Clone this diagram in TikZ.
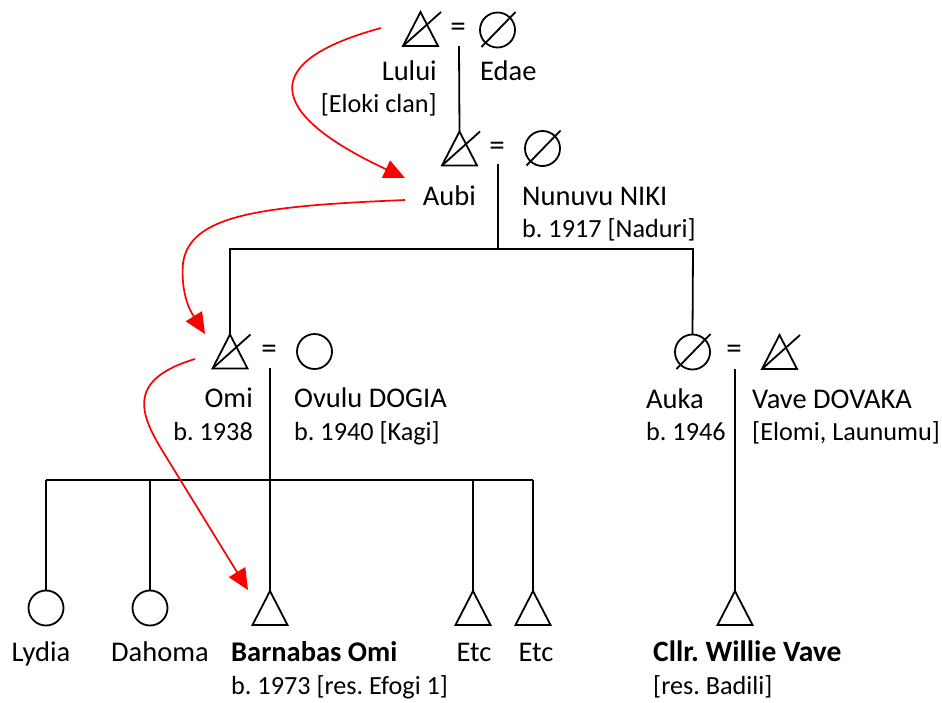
\documentclass[tikz,border=0pt]{standalone}
\usepackage{fontspec}
\setmainfont{Carlito}
\frenchspacing
\usetikzlibrary{arrows.meta}
\tikzset{
  kin/.style={line width=1.8pt, black},
  sym/.style={line width=1.8pt, black},
  redarr/.style={red, line width=1.7pt, -{Triangle[length=21pt,width=19pt]}},
  lbl/.style={inner sep=0pt, font=\fontsize{28.5}{33}\selectfont},
  sub/.style={inner sep=0pt, font=\fontsize{26.2}{31}\selectfont},
  eqsign/.style={inner sep=0pt, font=\fontsize{31}{33}\selectfont},
  male/.pic={\draw[sym] (-17.5,17) -- (17.5,17) -- (0,-17) coordinate (-top) -- cycle;},
  deadmale/.pic={\draw[sym] (-17.5,17) -- (17.5,17) -- (0,-17) coordinate (-top) -- cycle;
                 \draw[sym] (-17.5,17) -- (20.5,-17);},
  female/.pic={\draw[sym] (0,0) circle[radius=17.5pt]; \coordinate (-top) at (0,-17.5);},
  deadfemale/.pic={\draw[sym] (0,0) circle[radius=17.5pt]; \draw[sym] (-16,17) -- (18,-18);
                   \coordinate (-top) at (0,-17.5);},
}
\begin{document}
\begin{tikzpicture}[x=1pt,y=-1pt]
\useasboundingbox (0,0) rectangle (942,702);
% generation 1
\pic (lului) at (420.5,29) {deadmale};
\node[eqsign] (eq1) at (458,30) {=};
\pic (edae) at (497.5,30) {deadfemale};
\node[lbl, anchor=base east] (lululbl) at (437,80) {Lului};
\node[sub, anchor=base east] (lulucl) at (437,112) {[Eloki clan]};
\node[lbl, anchor=base west] (edaelbl) at (480,80) {Edae};
\coordinate (m1) at (459,46);
% generation 2
\pic (aubi) at (459.5,148.5) {deadmale};
\node[eqsign] (eq2) at (497,149) {=};
\pic (nunu) at (542.5,148.5) {deadfemale};
\node[lbl, anchor=base east] (aubilbl) at (476,205) {Aubi};
\node[lbl, anchor=base west] (nunulbl) at (522,205) {Nunuvu NIKI};
\node[sub, anchor=base west] (nunub) at (522,237) {b. 1917 [Naduri]};
\draw[kin] (m1) -- (aubi-top);
\coordinate (m2) at (498,164);
\coordinate (b2) at (498,249);
\coordinate (b2L) at (230,249);
\coordinate (b2R) at (693,249);
\draw[kin] (m2) -- (b2);
% generation 3
\pic (omi) at (230,351.5) {deadmale};
\node[eqsign] (eq3) at (269,352) {=};
\pic (ovulu) at (314.5,351.5) {female};
\node[lbl, anchor=base east] (omilbl) at (253,407) {Omi};
\node[sub, anchor=base east] (omib) at (253,440) {b. 1938};
\node[lbl, anchor=base west] (ovululbl) at (294,407) {Ovulu DOGIA};
\node[sub, anchor=base west] (ovulub) at (294,440) {b. 1940 [Kagi]};
\pic (auka) at (692.5,352) {deadfemale};
\node[eqsign] (eq4) at (734,352) {=};
\pic (vave) at (779.5,352) {deadmale};
\node[lbl, anchor=base west] (aukalbl) at (646,408) {Auka};
\node[sub, anchor=base west] (aukab) at (646,440) {b. 1946};
\node[lbl, anchor=base west] (vavelbl) at (752,408) {Vave DOVAKA};
\node[sub, anchor=base west] (vaveb) at (752,440) {[Elomi, Launumu]};
\draw[kin] (omi-top) -- (b2L) -- (b2R) -- (auka-top);
\coordinate (m3) at (270,368);
\coordinate (sib) at (270,480);
\coordinate (sibL) at (46,480);
\coordinate (sibR) at (533,480);
\draw[kin] (m3) -- (sib);
\draw[kin] (sibL) -- (sibR);
\coordinate (m4) at (735,369);
% generation 4
\pic (lydia) at (46,608) {female};
\pic (dahoma) at (150,608) {female};
\pic (barn) at (270,608) {male};
\pic (etc1) at (473,608) {male};
\pic (etc2) at (533,608) {male};
\pic (willie) at (735,608) {male};
\draw[kin] (sibL) -- (lydia-top);
\draw[kin] (dahoma-top |- sibL) -- (dahoma-top);
\draw[kin] (sib) -- (barn-top);
\draw[kin] (etc1-top |- sibL) -- (etc1-top);
\draw[kin] (sibR) -- (etc2-top);
\draw[kin] (m4) -- (willie-top);
\node[lbl, anchor=base] (lydialbl) at (41,661) {Lydia};
\node[lbl, anchor=base] (dahomalbl) at (160,661) {Dahoma};
\node[lbl, anchor=base west] (barnlbl) at (231,661) {\bfseries Barnabas Omi};
\node[sub, anchor=base west] (barnb) at (231,694) {b. 1973 [res. Efogi 1]};
\node[lbl, anchor=base] (etc1lbl) at (474,661) {Etc};
\node[lbl, anchor=base] (etc2lbl) at (536,661) {Etc};
\node[lbl, anchor=base west, font=\fontsize{29.5}{33}\selectfont] (willielbl) at (653,661) {\bfseries Cllr. Willie Vave};
\node[sub, anchor=base west] (willieb) at (653,694) {[res. Badili]};
% red arrows
\coordinate (a1s) at (381,28);
\coordinate (a1e) at (405,178);
\draw[redarr] (a1s) .. controls (245,65) and (280,120) .. (a1e);
\coordinate (a2s) at (405,200);
\coordinate (a2m) at (183,263);
\coordinate (a2e) at (205,334);
\draw[redarr] (a2s) .. controls (260,206) and (190,215) .. (a2m) .. controls (180,300) and (195,318) .. (a2e);
\coordinate (a3s) at (195,359);
\coordinate (a3m) at (165,455);
\coordinate (a3e) at (248,590);
\draw[redarr] (a3s) .. controls (125,380) and (140,415) .. (a3m) -- (a3e);
\end{tikzpicture}
\end{document}
